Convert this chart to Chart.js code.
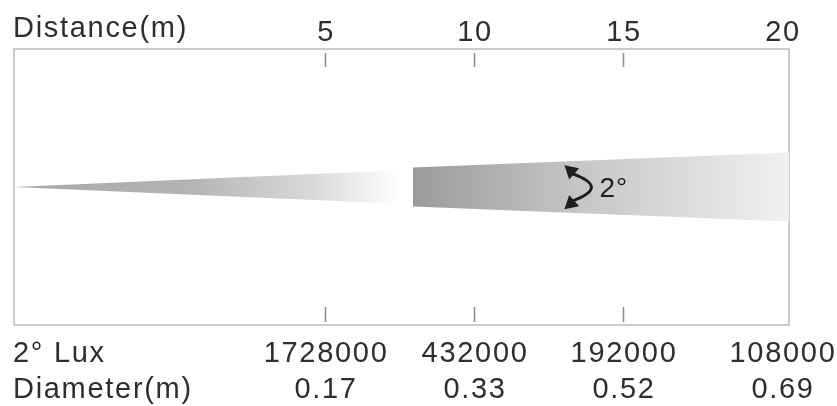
<!DOCTYPE html>
<html>
<head>
<meta charset="utf-8">
<script src="https://cdn.jsdelivr.net/npm/chart.js@4"></script>
<style>
  body { margin: 0; background: #fff; }
  canvas { display: block; }
</style>
</head>
<body>
<canvas id="beam" width="837" height="406"></canvas>
<script>
'use strict'
// table values under the beam
let distances = [5, 10, 15, 20];
let luxValues = ['1728000', '432000', '192000', '108000'];
let diameters = ['0.17', '0.33', '0.52', '0.69'];
let beamAngle = 2;

// beam outline (x = distance on schematic axis, y = half width)
let coneX = [-5.44, 7.9];
let coneHalf = [0, 0.125];
let bandX = [7.95, 20.57];
let bandHalf = [0.142, 0.25];

let xMin = -5.44, xMax = 20.57;
let textColor = '#2e2e2e';
let font = '29px "Liberation Sans", Arial, sans-serif';

function pts(xs, ys, sign){
  let out = [];
  for(let i=0; i < xs.length; i++){
    out.push({x: xs[i], y: sign * ys[i]});
  }
  return out;
}

function coneFill(context){
  let chart = context.chart;
  let area = chart.chartArea;
  if(!area) return '#bbb';
  let xs = chart.scales.x;
  let g = chart.ctx.createLinearGradient(xs.getPixelForValue(coneX[0]), 0, xs.getPixelForValue(coneX[1]) - 12, 0);
  g.addColorStop(0, '#a9a9a9');
  g.addColorStop(0.45, '#b3b3b3');
  g.addColorStop(0.78, '#dadada');
  g.addColorStop(1, '#ffffff');
  return g;
}

function bandFill(context){
  let chart = context.chart;
  let area = chart.chartArea;
  if(!area) return '#ccc';
  let xs = chart.scales.x;
  let g = chart.ctx.createLinearGradient(xs.getPixelForValue(bandX[0]), 0, xs.getPixelForValue(bandX[1]), 0);
  g.addColorStop(0, '#9b9b9b');
  g.addColorStop(0.45, '#c6c6c6');
  g.addColorStop(1, '#f1f1f1');
  return g;
}

// box, tick marks, labels and the angle arrow
let decor = {
  id: 'decor',
  beforeDatasetsDraw(chart){
    let ctx = chart.ctx;
    let a = chart.chartArea;
    ctx.save();
    ctx.strokeStyle = '#cbcbcb';
    ctx.lineWidth = 2;
    ctx.strokeRect(a.left, a.top, a.right - a.left, a.bottom - a.top);
    ctx.restore();
  },
  afterDatasetsDraw(chart){
    let ctx = chart.ctx;
    let a = chart.chartArea;
    let xs = chart.scales.x;
    let ys = chart.scales.y;
    ctx.save();

    // tick marks top and bottom (not at the right edge)
    ctx.strokeStyle = '#8a8a8a';
    ctx.lineWidth = 1.5;
    for(let i=0; i < distances.length - 1; i++){
      let px = Math.round(xs.getPixelForValue(distances[i])) + 0.5;
      ctx.beginPath();
      ctx.moveTo(px, a.top + 4); ctx.lineTo(px, a.top + 18);
      ctx.moveTo(px, a.bottom - 18); ctx.lineTo(px, a.bottom - 3);
      ctx.stroke();
    }

    ctx.fillStyle = textColor;
    ctx.font = font;
    ctx.letterSpacing = '1.7px';
    ctx.textBaseline = 'alphabetic';

    ctx.textAlign = 'left';
    ctx.fillText('Distance(m)', 13, 37);
    ctx.fillText(beamAngle + '° Lux', 13, 362);
    ctx.fillText('Diameter(m)', 13, 398);

    ctx.textAlign = 'center';
    for(let i=0; i < distances.length; i++){
      let px = xs.getPixelForValue(distances[i]);
      if(i === distances.length - 1) px = a.right - 7;
      ctx.fillText(String(distances[i]), px + 1, 41);
      ctx.fillText(luxValues[i], px + 1, 362);
      ctx.fillText(diameters[i], px + 1, 398);
    }

    // angle arrow
    let ax = xs.getPixelForValue(13.2);
    let yTop = ys.getPixelForValue(0.135);
    let yBot = ys.getPixelForValue(-0.14);
    let yMid = (yTop + yBot) / 2;
    let cx = ax + 42;
    ctx.strokeStyle = '#1e1e1e';
    ctx.fillStyle = '#1e1e1e';
    ctx.lineWidth = 3;
    ctx.beginPath();
    ctx.moveTo(ax + 2, yTop + 5);
    ctx.quadraticCurveTo(cx, yMid, ax + 2, yBot - 5);
    ctx.stroke();
    function head(tx, ty, dx, dy){
      let len = Math.hypot(dx, dy);
      dx /= len; dy /= len;
      let s = 13, w = 7.5;
      ctx.beginPath();
      ctx.moveTo(tx, ty);
      ctx.lineTo(tx - dx * s - dy * w, ty - dy * s + dx * w);
      ctx.lineTo(tx - dx * s + dy * w, ty - dy * s - dx * w);
      ctx.closePath();
      ctx.fill();
    }
    head(ax - 5, yTop - 3, -0.75, -0.66);
    head(ax - 5, yBot + 3, -0.75, 0.66);

    ctx.textAlign = 'left';
    ctx.font = '28px "Liberation Sans", Arial, sans-serif';
    ctx.letterSpacing = '1px';
    ctx.fillText(beamAngle + '°', ax + 30, yMid + 10);
    ctx.restore();
  }
};

let ctx = document.getElementById('beam').getContext('2d');
let chart = new Chart(ctx, {
  type: 'line',
  data: {
    datasets: [{
      data: pts(coneX, coneHalf, 1),
      fill: '+1',
      backgroundColor: coneFill,
      borderWidth: 0,
      pointRadius: 0
    },{
      data: pts(coneX, coneHalf, -1),
      fill: false,
      borderWidth: 0,
      pointRadius: 0
    },{
      data: pts(bandX, bandHalf, 1),
      fill: '+1',
      backgroundColor: bandFill,
      borderWidth: 0,
      pointRadius: 0
    },{
      data: pts(bandX, bandHalf, -1),
      fill: false,
      borderWidth: 0,
      pointRadius: 0
    }]
  },
  options: {
    responsive: false,
    animation: false,
    devicePixelRatio: 1,
    layout: { padding: { left: 14, right: 48, top: 49, bottom: 81 } },
    plugins: { legend: { display: false }, tooltip: { enabled: false } },
    scales: {
      x: { type: 'linear', min: xMin, max: xMax, display: false },
      y: { type: 'linear', min: -1, max: 1, display: false }
    }
  },
  plugins: [decor]
});
</script>
</body>
</html>
